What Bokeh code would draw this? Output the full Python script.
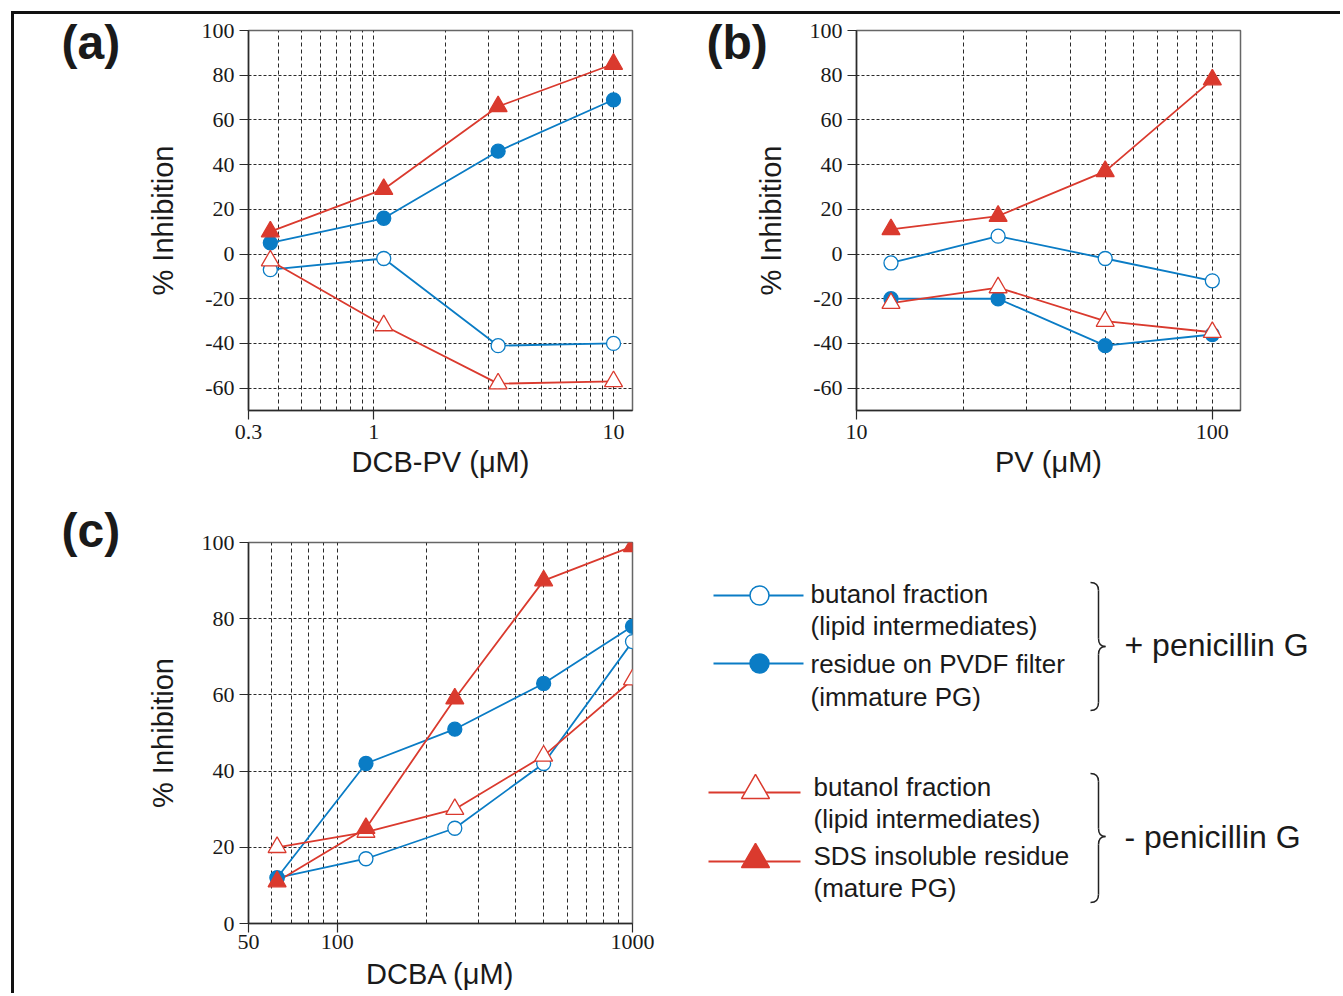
from bokeh.plotting import figure
from bokeh.layouts import row, column
from bokeh.models import FixedTicker, CustomJSTickFormatter, Label, Range1d, InlineStyleSheet
from bokeh.core.properties import value
from bokeh.embed import file_html
from bokeh.resources import INLINE

# ---------------- data ----------------
conc_a = [0.37, 1.1, 3.3, 10]
a_butanol_pen = [-7, -2, -41, -40]        # open circle, + penicillin G
a_pvdf_pen = [5, 16, 46, 69]              # filled circle, + penicillin G
a_butanol_nopen = [-3, -32, -58, -57]     # open triangle, - penicillin G
a_sds_nopen = [10, 29, 66, 85]            # filled triangle, - penicillin G

conc_b = [12.5, 25, 50, 100]
b_butanol_pen = [-4, 8, -2, -12]
b_pvdf_pen = [-20, -20, -41, -36]
b_butanol_nopen = [-22, -15, -30, -35]
b_sds_nopen = [11, 17, 37, 78]

conc_c = [62.5, 125, 250, 500, 1000]
c_butanol_pen = [12, 17, 25, 42, 74]
c_pvdf_pen = [12, 42, 51, 63, 78]
c_butanol_nopen = [20, 24, 30, 44, 64]
c_sds_nopen = [11, 25, 59, 90, 99]

a_xticks = [0.3, 1, 10]
a_xminor = [0.4, 0.5, 0.6, 0.7, 0.8, 0.9, 2, 3, 4, 5, 6, 7, 8, 9]
b_xticks = [10, 100]
b_xminor = [20, 30, 40, 50, 60, 70, 80, 90]
c_xticks = [50, 100, 1000]
c_xminor = [60, 70, 80, 90, 200, 300, 400, 500, 600, 700, 800, 900]
y_ticks_ab = [-60, -40, -20, 0, 20, 40, 60, 80, 100]
y_ticks_c = [0, 20, 40, 60, 80, 100]

legend_labels_pen = ["butanol fraction", "(lipid intermediates)", "residue on PVDF filter", "(immature PG)"]
legend_labels_nopen = ["butanol fraction", "(lipid intermediates)", "SDS insoluble residue", "(mature PG)"]
group_labels = ["+ penicillin G", "- penicillin G"]

BLUE = "#0a7cc5"
RED = "#da3a2e"
INK = "#2a2a2a"
SANS = "Liberation Sans"
SERIF = "Liberation Serif"


def panel(width, height, xr, yr, xticks, xminor, yticks, xlabel, borders, tag, tag_pos,
          label_standoff=5, title_standoff=4):
    left, right, top, bottom = borders
    p = figure(width=width, height=height, x_axis_type="log",
               x_range=Range1d(*xr), y_range=Range1d(*yr),
               output_backend="svg", toolbar_location=None,
               min_border_left=left, min_border_right=right,
               min_border_top=top, min_border_bottom=bottom,
               background_fill_color="white", border_fill_color="white")
    p.xaxis.ticker = FixedTicker(ticks=xticks, minor_ticks=xminor)
    p.yaxis.ticker = FixedTicker(ticks=yticks)
    p.xaxis.formatter = CustomJSTickFormatter(code="return String(tick);")
    p.yaxis.formatter = CustomJSTickFormatter(code="return String(tick);")
    for ax in (p.xaxis[0], p.yaxis[0]):
        ax.axis_line_color = INK
        ax.axis_line_width = 1.5
        ax.major_tick_line_color = INK
        ax.major_tick_line_width = 1.2
        ax.major_tick_out = 9
        ax.major_tick_in = 0
        ax.minor_tick_line_color = None
        ax.major_label_text_font = SERIF
        ax.major_label_text_font_size = "22px"
        ax.major_label_text_color = "#1a1a1a"
        ax.axis_label_text_font = SANS
        ax.axis_label_text_font_size = "29px"
        ax.axis_label_text_font_style = "normal"
        ax.axis_label_text_color = "#1a1a1a"
    p.xaxis.axis_label = xlabel
    p.yaxis.axis_label = "% Inhibition"
    p.xaxis.major_label_standoff = label_standoff
    p.xaxis.axis_label_standoff = title_standoff
    p.yaxis.major_label_standoff = 5
    p.yaxis.axis_label_standoff = 20
    p.xgrid.grid_line_color = INK
    p.xgrid.grid_line_dash = "4 3"
    p.xgrid.grid_line_width = 1
    p.xgrid.minor_grid_line_color = INK
    p.xgrid.minor_grid_line_dash = "4 3"
    p.xgrid.minor_grid_line_width = 1
    p.ygrid.grid_line_color = INK
    p.ygrid.grid_line_dash = "3 2"
    p.ygrid.grid_line_width = 1
    p.outline_line_color = "#666666"
    p.outline_line_width = 1.5
    p.add_layout(Label(x=tag_pos[0], y=tag_pos[1], x_units="screen", y_units="screen",
                       text=tag, text_font=SANS, text_font_style="bold",
                       text_font_size="48px", text_baseline="middle",
                       text_color="#1a1a1a"), "left")
    return p


def draw(p, x, oc, fc, ot, ft):
    p.line(x, oc, line_color=BLUE, line_width=1.8)
    p.line(x, fc, line_color=BLUE, line_width=1.8)
    p.line(x, ot, line_color=RED, line_width=1.8)
    p.line(x, ft, line_color=RED, line_width=1.8)
    p.scatter(x, oc, marker="circle", size=14, fill_color="white", line_color=BLUE, line_width=1.3)
    p.scatter(x, fc, marker="circle", size=14, fill_color=BLUE, line_color=BLUE, line_width=1.3)
    p.scatter(x, ot, marker="triangle", size=18, fill_color="white", line_color=RED, line_width=1.3)
    p.scatter(x, ft, marker="triangle", size=18, fill_color=RED, line_color=RED, line_width=1.3)


pa = panel(666, 486, (0.3, 12), (-70, 100), a_xticks, a_xminor, y_ticks_ab,
           "DCB-PV (\u03bcM)", (234, 48, 16, 90), "(a)", (-23, 368))
draw(pa, conc_a, a_butanol_pen, a_pvdf_pen, a_butanol_nopen, a_sds_nopen)

pb = panel(660, 486, (10, 120), (-70, 100), b_xticks, b_xminor, y_ticks_ab,
           "PV (\u03bcM)", (176, 100, 16, 90), "(b)", (16, 368))
draw(pb, conc_b, b_butanol_pen, b_pvdf_pen, b_butanol_nopen, b_sds_nopen)

pc = panel(666, 493, (50, 1000), (0, 100), c_xticks, c_xminor, y_ticks_c,
           "DCBA (\u03bcM)", (234, 48, 42, 70), "(c)", (-23, 393),
           label_standoff=2, title_standoff=6)
draw(pc, conc_c, c_butanol_pen, c_pvdf_pen, c_butanol_nopen, c_sds_nopen)

# ---------------- legend panel ----------------
# frame vertically aligned with panel (c): pixel rows 42..423 of the canvas
pl = figure(width=660, height=493, x_range=Range1d(0, 660), y_range=Range1d(423, 42),
            output_backend="svg", toolbar_location=None,
            min_border_left=0, min_border_right=0, min_border_top=42, min_border_bottom=70,
            x_axis_location=None, y_axis_location=None,
            background_fill_color="white", border_fill_color="white")
pl.grid.visible = False
pl.outline_line_color = None

blue_rows = [95, 163]
red_rows = [292, 361]
pl.segment(x0=[33, 33], y0=blue_rows, x1=[123, 123], y1=blue_rows, line_color=BLUE, line_width=2)
pl.segment(x0=[28, 28], y0=red_rows, x1=[120, 120], y1=red_rows, line_color=RED, line_width=2)
pl.scatter([79], [blue_rows[0]], marker="circle", size=19, fill_color="white", line_color=BLUE, line_width=1.5)
pl.scatter([79], [blue_rows[1]], marker="circle", size=19, fill_color=BLUE, line_color=BLUE, line_width=1.5)
pl.scatter([75], [red_rows[0] - 2], marker="triangle", size=28, fill_color="white", line_color=RED, line_width=1.5)
pl.scatter([75], [red_rows[1] - 2], marker="triangle", size=28, fill_color=RED, line_color=RED, line_width=1.5)

pl.text(x=[130] * 4, y=[93, 125, 163, 196], text=legend_labels_pen,
        text_font=value(SANS), text_font_size=value("26px"), text_baseline="middle",
        text_align="left", text_color="#1a1a1a")
pl.text(x=[133] * 4, y=[286, 318, 355, 387], text=legend_labels_nopen,
        text_font=value(SANS), text_font_size=value("26px"), text_baseline="middle",
        text_align="left", text_color="#1a1a1a")
pl.text(x=[444, 444], y=[144, 336], text=group_labels,
        text_font=value(SANS), text_font_size=value("32px"), text_baseline="middle",
        text_align="left", text_color="#1a1a1a")


def brace(p, xl, xm, xt, yt, yb, ym, r=8):
    p.quadratic(x0=[xl, xm, xt, xm], y0=[yt, ym - r, ym, yb - r],
                x1=[xm, xt, xm, xl], y1=[yt + r, ym, ym + r, yb],
                cx=[xm, xm, xm, xm], cy=[yt, ym, ym, yb],
                line_color="#222222", line_width=1.5)
    p.segment(x0=[xm, xm], y0=[yt + r, ym + r], x1=[xm, xm], y1=[ym - r, yb - r],
              line_color="#222222", line_width=1.5)


brace(pl, 410, 418, 425, 82, 210, 146)
brace(pl, 410, 418, 425, 273, 402, 336)

layout = column(row(pa, pb), row(pc, pl),
                stylesheets=[InlineStyleSheet(css=":host { margin: 11px 0 0 11px; border-top: 3px solid #111; border-left: 3px solid #111; }")])

open("out.html", "w").write(file_html(layout, INLINE))
